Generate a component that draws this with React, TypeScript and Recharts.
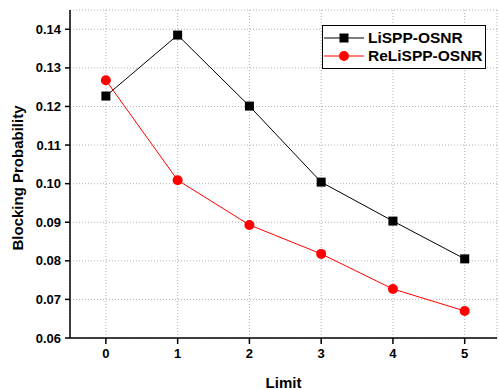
import React from "react";
import { LineChart, Line, XAxis, YAxis, CartesianGrid, Legend } from "recharts";

const limits = [0, 1, 2, 3, 4, 5];
const lispp = [0.1227, 0.1385, 0.1201, 0.1004, 0.0903, 0.0805];
const relispp = [0.1268, 0.1009, 0.0893, 0.0818, 0.0727, 0.067];
const xTicks = [0, 1, 2, 3, 4, 5];
const yTicks = [0.06, 0.065, 0.07, 0.075, 0.08, 0.085, 0.09, 0.095, 0.1, 0.105, 0.11, 0.115, 0.12, 0.125, 0.13, 0.135, 0.14];

const data = limits.map((l, i) => ({ limit: l, a: lispp[i], b: relispp[i] }));

const font = "'Liberation Sans', Arial, sans-serif";

const YTick = (props: any) => {
  const { x, y, payload } = props;
  const v = payload.value;
  const major = Math.abs(v * 100 - Math.round(v * 100)) < 1e-6;
  if (!major) return <g />;
  return (
    <text x={x} y={y} dy={4.5} textAnchor="end" fill="#000" fontSize={13} fontWeight="bold" fontFamily={font}>
      {v.toFixed(2)}
    </text>
  );
};

const Empty = () => <g />;

const SquareDot = (props: any) => {
  const { cx, cy, index } = props;
  return <rect key={"sq" + index} x={cx - 4.5} y={cy - 4.5} width={9} height={9} fill="#000" />;
};

const CircleDot = (props: any) => {
  const { cx, cy, index } = props;
  return <circle key={"ci" + index} cx={cx} cy={cy} r={5} fill="#ff0000" />;
};

const LegendBox = () => (
  <div
    style={{
      border: "1px solid #000",
      background: "#fff",
      width: 162,
      padding: "3px 0",
      fontFamily: font,
      fontWeight: "bold",
      fontSize: 15.5,
      lineHeight: "18px",
      whiteSpace: "nowrap",
    }}
  >
    {[
      { name: "LiSPP-OSNR", color: "#000", square: true },
      { name: "ReLiSPP-OSNR", color: "#ff0000", square: false },
    ].map((s) => (
      <div key={s.name} style={{ display: "flex", alignItems: "center" }}>
        <svg width={42} height={18} style={{ flexShrink: 0 }}>
          <line x1={1} y1={9} x2={41} y2={9} stroke={s.color} strokeWidth={1} />
          {s.square ? (
            <rect x={16.5} y={4.5} width={9} height={9} fill={s.color} />
          ) : (
            <circle cx={21} cy={9} r={5} fill={s.color} />
          )}
        </svg>
        <span style={{ color: "#000", marginLeft: 3 }}>{s.name}</span>
      </div>
    ))}
  </div>
);

export default function App() {
  const axisStyle = { stroke: "#000", strokeWidth: 1.5 };
  return (
    <div style={{ position: "absolute", left: 0, top: 0, background: "#fff" }}>
      <LineChart width={499} height={390} data={data} margin={{ top: 10, right: 2, left: 0, bottom: 0 }}>
        <CartesianGrid stroke="#b0b0b0" strokeDasharray="1 2" />
        <XAxis
          dataKey="limit"
          type="number"
          domain={[-0.5, 5.45]}
          ticks={xTicks}
          axisLine={axisStyle}
          tickLine={{ stroke: "#000", strokeWidth: 1.5 }}
          tickSize={6}
          tickMargin={5}
          height={52}
          tick={{ fill: "#000", fontSize: 13, fontWeight: "bold", fontFamily: font }}
          label={{
            value: "Limit",
            position: "insideBottom",
            offset: 2,
            fill: "#000",
            fontSize: 15,
            fontWeight: "bold",
            fontFamily: font,
          }}
        />
        <XAxis
          xAxisId="top"
          orientation="top"
          dataKey="limit"
          type="number"
          domain={[-0.5, 5.45]}
          ticks={xTicks}
          mirror
          height={0}
          axisLine={axisStyle}
          tickLine={{ stroke: "#000", strokeWidth: 1.5 }}
          tickSize={5}
          tick={<Empty />}
        />
        <YAxis
          type="number"
          domain={[0.06, 0.145]}
          ticks={yTicks}
          width={70}
          axisLine={axisStyle}
          tickLine={{ stroke: "#000", strokeWidth: 1.5 }}
          tickSize={5}
          tickMargin={4}
          tick={<YTick />}
          label={{
            value: "Blocking Probability",
            angle: -90,
            position: "center",
            dx: -17,
            dy: 4,
            fill: "#000",
            fontSize: 15,
            fontWeight: "bold",
            fontFamily: font,
          }}
        />
        <YAxis
          yAxisId="right"
          orientation="right"
          type="number"
          domain={[0.06, 0.145]}
          ticks={yTicks}
          mirror
          width={0}
          axisLine={axisStyle}
          tickLine={{ stroke: "#000", strokeWidth: 1.5 }}
          tickSize={5}
          tick={<Empty />}
        />
        <Legend
          layout="vertical"
          align="center"
          verticalAlign="middle"
          wrapperStyle={{ top: 25, left: 322, width: 164 }}
          content={<LegendBox />}
        />
        <Line
          type="linear"
          dataKey="a"
          name="LiSPP-OSNR"
          stroke="#000"
          strokeWidth={1}
          dot={SquareDot}
          activeDot={false}
          isAnimationActive={false}
        />
        <Line
          type="linear"
          dataKey="b"
          name="ReLiSPP-OSNR"
          stroke="#ff0000"
          strokeWidth={1}
          dot={CircleDot}
          activeDot={false}
          isAnimationActive={false}
        />
      </LineChart>
    </div>
  );
}
